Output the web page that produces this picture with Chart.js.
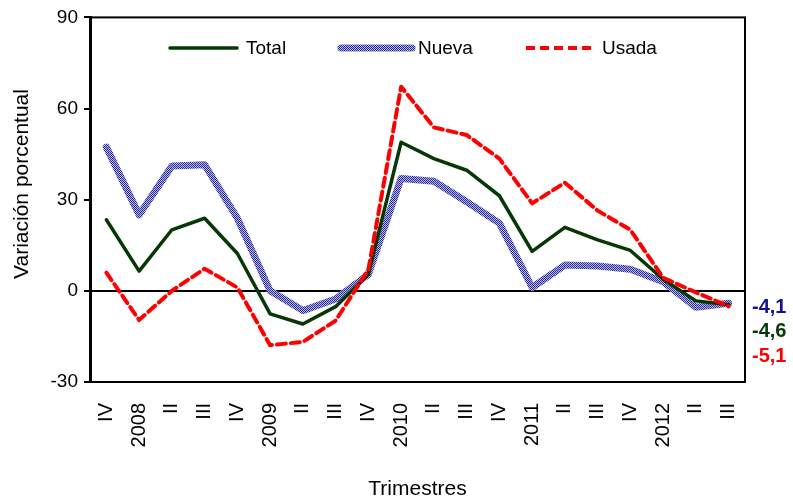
<!DOCTYPE html>
<html>
<head>
<meta charset="utf-8">
<script src="https://cdn.jsdelivr.net/npm/chart.js@4/dist/chart.umd.min.js"></script>
<style>
  html, body { margin: 0; padding: 0; background: #fff; }
  #chart { display: block; }
</style>
</head>
<body>
<canvas id="chart" width="793" height="502"></canvas>
<script>
// ── Data ──────────────────────────────────────
const quarters = ['IV','2008','II','III','IV','2009','II','III','IV','2010','II','III','IV','2011','II','III','IV','2012','II','III'];
const total = [23.4, 6.5, 20.1, 23.9, 12.3, -7.6, -10.9, -5.2, 5.5, 48.9, 43.5, 39.7, 31.3, 13.0, 20.9, 16.8, 13.3, 3.8, -3.3, -4.6];
const nueva = [47.3, 25.0, 41.1, 41.5, 23.9, 0.0, -6.5, -2.7, 5.4, 37.0, 36.1, 29.3, 22.3, 1.1, 8.5, 8.2, 7.1, 3.0, -5.4, -4.1];
const usada = [6.0, -9.6, 0.0, 7.3, 1.1, -17.9, -16.8, -9.8, 7.0, 67.2, 53.8, 51.3, 43.5, 28.8, 35.6, 26.4, 20.1, 4.3, -0.5, -5.1];
const yTicks = [-30, 0, 30, 60, 90];

const FONT = 'Arial, "Liberation Sans", sans-serif';
const GREEN = '#063806';
const RED = '#ff0000';
const NAVY = '#14148a';
const RED_DASH = [9, 5];

// ── Hatched blue pattern for "Nueva" ──────────
function makeHatch() {
  const c = document.createElement('canvas');
  c.width = 2; c.height = 2;
  const g = c.getContext('2d');
  g.fillStyle = '#b4b4e6'; g.fillRect(0, 0, 2, 2);
  g.fillStyle = '#30309c'; g.fillRect(0, 0, 1, 1); g.fillRect(1, 1, 1, 1);
  return g.createPattern(c, 'repeat');
}
const hatch = makeHatch();

const fmt = v => v.toFixed(1).replace('.', ',');

// ── Frame, legend, y title and end labels ─────
const decorations = {
  id: 'decorations',
  afterDraw(chart) {
    const { ctx, chartArea: a, scales } = chart;
    ctx.save();
    ctx.strokeStyle = '#000';
    ctx.lineWidth = 2;
    ctx.strokeRect(a.left, a.top, a.right - a.left, a.bottom - a.top);

    // y axis title (sits a little above the axis centre in the original)
    ctx.save();
    ctx.translate(22, 184);
    ctx.rotate(-Math.PI / 2);
    ctx.fillStyle = '#000';
    ctx.font = `21px ${FONT}`;
    ctx.textAlign = 'center';
    ctx.textBaseline = 'middle';
    ctx.fillText('Variación porcentual', 0, 0);
    ctx.restore();

    // legend inside the plot
    const ly = 48;
    const items = [
      { label: 'Total', x0: 170, x1: 237, tx: 246, color: GREEN, w: 3.5, dash: [] },
      { label: 'Nueva', x0: 341, x1: 412, tx: 418, color: hatch, w: 7, dash: [] },
      { label: 'Usada', x0: 526, x1: 596, tx: 602, color: RED, w: 4, dash: RED_DASH }
    ];
    items.forEach(it => {
      ctx.beginPath();
      ctx.setLineDash(it.dash);
      ctx.lineCap = it.dash.length ? 'butt' : 'round';
      ctx.strokeStyle = it.color;
      ctx.lineWidth = it.w;
      ctx.moveTo(it.x0, ly);
      ctx.lineTo(it.x1, ly);
      ctx.stroke();
      ctx.setLineDash([]);
      ctx.fillStyle = '#000';
      ctx.font = `19px ${FONT}`;
      ctx.textAlign = 'left';
      ctx.textBaseline = 'middle';
      ctx.fillText(it.label, it.tx, ly + 1);
    });

    // last values at the right edge
    const y0 = scales.y.getPixelForValue(0);
    const ends = [
      { v: nueva[nueva.length - 1], color: NAVY, dy: 17 },
      { v: total[total.length - 1], color: GREEN, dy: 41 },
      { v: usada[usada.length - 1], color: RED, dy: 66 }
    ];
    ctx.font = `bold 20px ${FONT}`;
    ctx.textAlign = 'left';
    ctx.textBaseline = 'middle';
    ends.forEach(e => {
      ctx.fillStyle = e.color;
      ctx.fillText(fmt(e.v), a.right + 7, y0 + e.dy);
    });
    ctx.restore();
  }
};

// ── Chart ─────────────────────────────────────
new Chart(document.getElementById('chart').getContext('2d'), {
  type: 'line',
  data: {
    labels: quarters,
    datasets: [
      { label: 'Total', data: total, borderColor: GREEN, borderWidth: 3.5, order: 1 },
      { label: 'Nueva', data: nueva, borderColor: hatch, borderWidth: 7, order: 2 },
      { label: 'Usada', data: usada, borderColor: RED, borderWidth: 4, borderDash: RED_DASH, order: 0 }
    ]
  },
  options: {
    responsive: false,
    animation: false,
    layout: { padding: { top: 14, right: 48, left: 0, bottom: 0 } },
    elements: {
      point: { radius: 0 },
      line: { tension: 0, fill: false, borderJoinStyle: 'round', borderCapStyle: 'round' }
    },
    plugins: { legend: { display: false }, tooltip: { enabled: false } },
    scales: {
      x: {
        offset: true,
        grid: { display: false },
        border: { display: false },
        ticks: {
          autoSkip: false, maxRotation: 90, minRotation: 90, padding: 13,
          color: '#000', font: { family: FONT, size: 20 }
        },
        title: {
          display: true, text: 'Trimestres', color: '#000',
          font: { family: FONT, size: 21 }, padding: { top: 0, bottom: 0 }
        },
        afterFit(scale) { scale.height = 120; }
      },
      y: {
        min: -30, max: 90,
        afterBuildTicks(scale) { scale.ticks = yTicks.map(v => ({ value: v })); },
        grid: {
          drawOnChartArea: true,
          color: ctx => (ctx.tick && ctx.tick.value === 0 ? '#000' : 'rgba(0,0,0,0)'),
          lineWidth: 2,
          tickColor: '#000',
          tickLength: 6
        },
        border: { display: true, color: '#000', width: 3 },
        ticks: { padding: 6, color: '#000', font: { family: FONT, size: 19 } },
        afterFit(scale) { scale.width = 90; }
      }
    }
  },
  plugins: [decorations]
});
</script>
</body>
</html>
